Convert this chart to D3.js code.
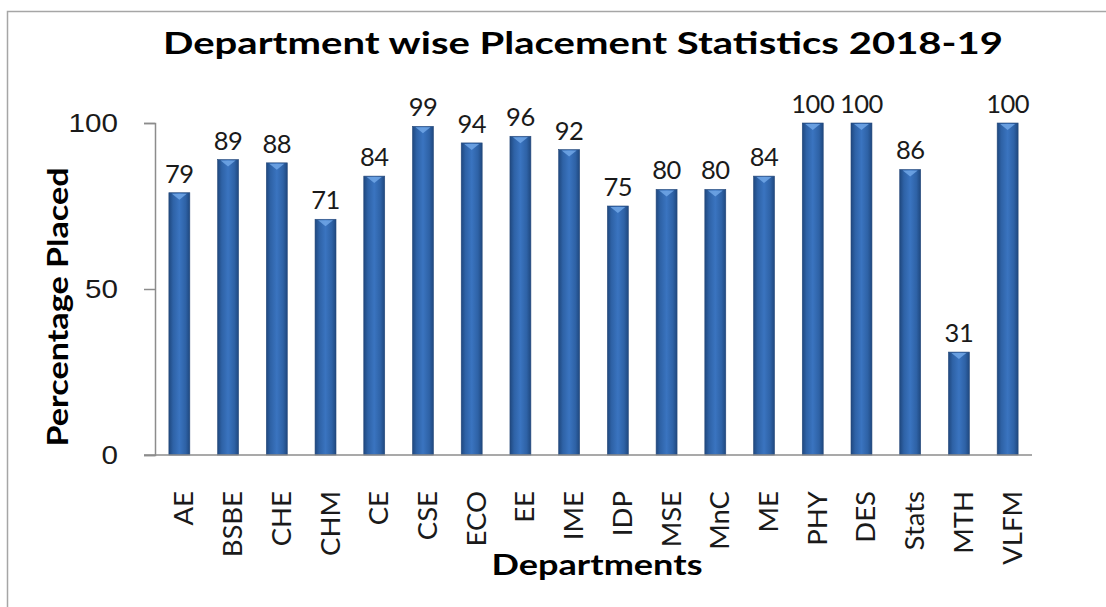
<!DOCTYPE html>
<html>
<head>
<meta charset="utf-8">
<script src="https://cdn.jsdelivr.net/npm/d3@7"></script>
<style>
  body { margin: 0; background: #fff; }
  svg { display: block; font-family: Lato, "Open Sans", sans-serif; }
</style>
</head>
<body>
<div id="chart"></div>
<script>
// data
const departments = ['AE', 'BSBE', 'CHE', 'CHM', 'CE', 'CSE', 'ECO', 'EE', 'IME', 'IDP',
  'MSE', 'MnC', 'ME', 'PHY', 'DES', 'Stats', 'MTH', 'VLFM'];
const placed = [79, 89, 88, 71, 84, 99, 94, 96, 92, 75, 80, 80, 84, 100, 100, 86, 31, 100];
const yTicks = [0, 50, 100];

const width = 1106, height = 607;
const plotLeft = 155, plotRight = 1032, plotTop = 123, plotBottom = 455;

const svg = d3.select('#chart').append('svg')
  .attr('width', width)
  .attr('height', height);

// outer frame (cropped on right and bottom like the picture)
svg.append('rect')
  .attr('x', 7.5).attr('y', 11.5)
  .attr('width', 1200).attr('height', 700)
  .attr('fill', 'none')
  .attr('stroke', '#a6a6a6')
  .attr('stroke-width', 1.5);

const defs = svg.append('defs');
const grad = defs.append('linearGradient')
  .attr('id', 'barGrad')
  .attr('x1', '0%').attr('x2', '100%')
  .attr('y1', '0%').attr('y2', '0%');
[['0%', '#1f487f'], ['20%', '#2e62a6'], ['50%', '#3a74c0'], ['80%', '#2e62a6'], ['100%', '#1f487f']]
  .forEach(([o, c]) => grad.append('stop').attr('offset', o).attr('stop-color', c));

const x = d3.scaleBand()
  .domain(departments)
  .range([plotLeft, plotRight])
  .paddingInner(0.57)
  .paddingOuter(0.285);

const y = d3.scaleLinear()
  .domain([0, 100])
  .range([plotBottom, plotTop]);

// y axis
const yAxis = svg.append('g')
  .attr('transform', `translate(${plotLeft},0)`)
  .call(d3.axisLeft(y).tickValues(yTicks).tickSize(11).tickPadding(26));
yAxis.select('.domain').attr('stroke', '#8c8c8c').attr('stroke-width', 1.5);
yAxis.selectAll('.tick line').attr('stroke', '#8c8c8c').attr('stroke-width', 1.5);
yAxis.selectAll('.tick text')
  .attr('x', null)
  .attr('transform', 'translate(-37,0) scale(1.14,1)')
  .attr('fill', '#1a1a1a')
  .style('font-size', '26px');

// bars
const bars = svg.append('g');
bars.selectAll('rect')
  .data(placed)
  .enter().append('rect')
  .attr('x', (d, i) => x(departments[i]))
  .attr('y', d => y(d))
  .attr('width', x.bandwidth())
  .attr('height', d => y(0) - y(d))
  .attr('fill', 'url(#barGrad)')
  .attr('stroke', '#26497a')
  .attr('stroke-width', 0.6);

// little bevel highlight on the top of each bar
bars.selectAll('path')
  .data(placed)
  .enter().append('path')
  .attr('d', (d, i) => {
    const x0 = x(departments[i]), w = x.bandwidth(), t = y(d);
    return `M${x0 + 3},${t + 1}L${x0 + w - 3},${t + 1}L${x0 + w / 2},${t + 7}Z`;
  })
  .attr('fill', '#74aaea')
  .attr('opacity', 0.8);

// x axis line
svg.append('line')
  .attr('x1', 144).attr('x2', plotRight)
  .attr('y1', y(0)).attr('y2', y(0))
  .attr('stroke', '#8c8c8c')
  .attr('stroke-width', 1.5);

// value labels
svg.append('g').selectAll('text')
  .data(placed)
  .enter().append('text')
  .attr('x', (d, i) => x(departments[i]) + x.bandwidth() / 2)
  .attr('y', d => y(d) - 10)
  .attr('text-anchor', 'middle')
  .attr('fill', '#1a1a1a')
  .style('font-size', '25.5px')
  .style('letter-spacing', '-0.5px')
  .text(d => d);

// category labels, rotated
svg.append('g').selectAll('text')
  .data(departments)
  .enter().append('text')
  .attr('transform', d => `translate(${x(d) + x.bandwidth() / 2 + 14},491) rotate(-90)`)
  .attr('text-anchor', 'end')
  .attr('fill', '#1a1a1a')
  .style('font-size', '27.5px')
  .text(d => d);

// title
svg.append('text')
  .attr('x', 583).attr('y', 54)
  .attr('text-anchor', 'middle')
  .attr('textLength', 840)
  .attr('lengthAdjust', 'spacingAndGlyphs')
  .style('font-size', '30px')
  .style('font-weight', 'bold')
  .text('Department wise Placement Statistics 2018-19');

// axis titles
svg.append('text')
  .attr('x', 597).attr('y', 575)
  .attr('text-anchor', 'middle')
  .attr('textLength', 211)
  .attr('lengthAdjust', 'spacingAndGlyphs')
  .style('font-size', '28px')
  .style('font-weight', 'bold')
  .text('Departments');

svg.append('text')
  .attr('transform', 'translate(68,307) rotate(-90)')
  .attr('text-anchor', 'middle')
  .attr('textLength', 279)
  .attr('lengthAdjust', 'spacingAndGlyphs')
  .style('font-size', '29px')
  .style('font-weight', 'bold')
  .text('Percentage Placed');
</script>
</body>
</html>
